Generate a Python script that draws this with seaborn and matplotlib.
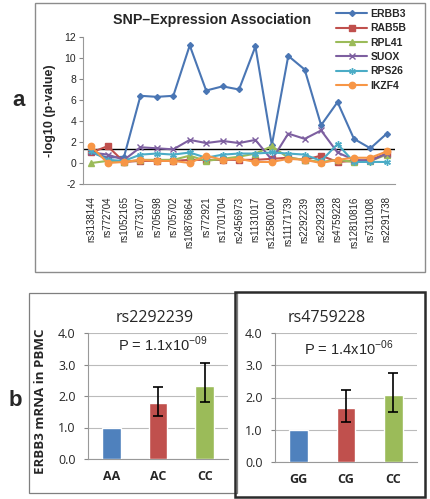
import numpy as np
import pandas as pd
import matplotlib
matplotlib.use("Agg")
import matplotlib.pyplot as plt
from matplotlib.patches import Rectangle
from matplotlib.lines import Line2D
import seaborn as sns

# ---------------- data ----------------
snps = ["rs3138144", "rs772704", "rs1052165", "rs773107", "rs705698", "rs705702",
        "rs10876864", "rs772921", "rs1701704", "rs2456973", "rs1131017", "rs12580100",
        "rs11171739", "rs2292239", "rs2292238", "rs4759228", "rs12810816", "rs7311008",
        "rs2291738"]
genes = ["ERBB3", "RAB5B", "RPL41", "SUOX", "RPS26", "IKZF4"]
erbb3 = [1.0, 0.5, 0.6, 6.4, 6.3, 6.4, 11.2, 6.9, 7.3, 7.0, 11.1, 1.7, 10.2, 8.9, 3.6, 5.8, 2.3, 1.4, 2.8]
rab5b = [1.0, 1.6, 0.1, 0.2, 0.2, 0.2, 0.3, 0.3, 0.3, 0.3, 0.3, 0.4, 0.5, 0.3, 0.7, 0.1, 0.2, 0.3, 0.9]
rpl41 = [0.0, 0.2, 0.1, 0.3, 0.3, 0.3, 0.7, 0.2, 0.4, 0.6, 0.9, 1.6, 0.5, 0.3, 0.1, 0.3, 0.1, 0.2, 0.8]
suox = [1.0, 0.8, 0.3, 1.5, 1.4, 1.3, 2.2, 1.9, 2.1, 1.9, 2.2, 0.3, 2.8, 2.3, 3.1, 1.0, 0.3, 0.2, 0.9]
rps26 = [1.1, 0.3, 0.2, 0.8, 0.9, 0.8, 1.0, 0.5, 0.8, 0.9, 0.9, 1.0, 0.9, 0.8, 0.2, 1.8, 0.1, 0.1, 0.1]
ikzf4 = [1.6, 0.0, 0.1, 0.3, 0.2, 0.2, 0.0, 0.7, 0.3, 0.4, 0.1, 0.1, 0.4, 0.3, 0.0, 0.3, 0.5, 0.5, 1.1]
threshold = 1.3

geno1 = ["AA", "AC", "CC"]
expr1 = [1.0, 1.77, 2.33]
lo1 = [1.0, 1.38, 1.82]
hi1 = [1.0, 2.28, 3.04]
title1 = "rs2292239"
p1 = ("1.1", "-09")

geno2 = ["GG", "CG", "CC"]
expr2 = [1.0, 1.68, 2.08]
lo2 = [1.0, 1.25, 1.55]
hi2 = [1.0, 2.22, 2.75]
title2 = "rs4759228"
p2 = ("1.4", "-06")

# ---------------- style ----------------
sns.set_style("white")
plt.rcParams["font.family"] = ["Liberation Sans", "DejaVu Sans"]

gene_colors = {"ERBB3": "#4A76B4", "RAB5B": "#C0504D", "RPL41": "#9BBB59",
               "SUOX": "#7D5FA0", "RPS26": "#4BACC6", "IKZF4": "#F79646"}
gene_markers = {"ERBB3": "D", "RAB5B": "s", "RPL41": "^", "SUOX": "x",
                "RPS26": (6, 2, 0), "IKZF4": "o"}
gene_ms = {"ERBB3": 3.0, "RAB5B": 4.0, "RPL41": 4.0, "SUOX": 4.0, "RPS26": 4.8, "IKZF4": 4.6}
bar_colors = ["#4F81BD", "#C0504D", "#9BBB59"]

W, H = 430, 499
fig = plt.figure(figsize=(W / 100, H / 100), dpi=100)


def fx(px):
    return px / W


def fy(py):
    return 1 - py / H


# ---------------- boxes ----------------
fig.patches.append(Rectangle((fx(35), fy(272)), fx(425) - fx(35), fy(3) - fy(272),
                             transform=fig.transFigure, fill=False, ec="#8C8C8C", lw=1.0))
fig.patches.append(Rectangle((fx(29), fy(493)), fx(237) - fx(29), fy(293) - fy(493),
                             transform=fig.transFigure, fill=False, ec="#7F7F7F", lw=0.9))
fig.patches.append(Rectangle((fx(235), fy(497)), fx(425) - fx(235), fy(292) - fy(497),
                             transform=fig.transFigure, fill=False, ec="#2B2B2B", lw=1.8))

# ---------------- top panel ----------------
ax = fig.add_axes([fx(83), fy(184), fx(395) - fx(83), fy(37) - fy(184)])
series = {"ERBB3": erbb3, "RAB5B": rab5b, "RPL41": rpl41, "SUOX": suox,
          "RPS26": rps26, "IKZF4": ikzf4}

ax.axhline(threshold, color="black", lw=1.0, zorder=1)
for g in genes:
    gdf = pd.DataFrame({"idx": np.arange(len(snps)), "value": series[g]})
    c = gene_colors[g]
    sns.lineplot(data=gdf, x="idx", y="value", color=c, marker=gene_markers[g],
                 markersize=gene_ms[g], markeredgecolor=c, markerfacecolor=c,
                 markeredgewidth=1.0, lw=1.5, errorbar=None, sort=False, ax=ax)

ax.set_xlim(-0.5, len(snps) - 0.5)
ax.set_ylim(-2, 12)
ax.set_yticks(np.arange(-2, 13, 2))
ax.set_yticklabels([str(v) for v in range(-2, 13, 2)], fontsize=7.5)
ax.set_xticks(range(len(snps)))
ax.set_xticklabels(snps, rotation=90, fontsize=7)
ax.set_xticks(np.arange(-0.5, len(snps), 1), minor=True)
ax.tick_params(axis="x", which="major", length=0, pad=9)
ax.tick_params(axis="x", which="minor", length=4, color="#888888", direction="out")
ax.tick_params(axis="y", length=3, color="#888888", direction="out", pad=2, left=True)
for s in ["top", "right"]:
    ax.spines[s].set_visible(False)
ax.spines["left"].set_color("#999999")
ax.spines["bottom"].set_color("#999999")
ax.set_xlabel("")
ax.set_ylabel("-log10 (p-value)", fontsize=9, fontweight="bold", labelpad=6)
ax.patch.set_alpha(0)

fig.text(fx(212), fy(20), "SNP\u2013Expression Association", ha="center", va="center",
         fontsize=10.3, fontweight="bold")

handles = [Line2D([0], [0], color=gene_colors[g], marker=gene_markers[g], lw=1.5,
                  ms=gene_ms[g], mec=gene_colors[g], mfc=gene_colors[g]) for g in genes]
leg = fig.legend(handles, genes, loc="upper left", bbox_to_anchor=(fx(336), fy(9)),
                 frameon=False, fontsize=7.5, handlelength=3.0, handletextpad=0.3,
                 labelspacing=0.42, borderaxespad=0, borderpad=0)
for t in leg.get_texts():
    t.set_fontweight("bold")

fig.text(fx(19), fy(100), "a", ha="center", va="center", fontsize=16, fontweight="bold")
fig.text(fx(15), fy(400), "b", ha="center", va="center", fontsize=16, fontweight="bold")

# ---------------- bottom panels ----------------
def bar_panel(rect, geno, vals, lo, hi, title, ptxt, title_xy, p_xy):
    bx = fig.add_axes(rect)
    bdf = pd.DataFrame({"geno": geno, "val": vals})
    sns.barplot(data=bdf, x="geno", y="val", hue="geno", palette=bar_colors,
                saturation=1, width=0.4, legend=False, ax=bx, zorder=3)
    for i, (v, l, h) in enumerate(zip(vals, lo, hi)):
        if h > l:
            bx.errorbar(i, v, yerr=[[v - l], [h - v]], color="black", lw=1.2,
                        capsize=3.5, capthick=1.2, zorder=4)
    bx.set_ylim(0, 4)
    bx.set_xlim(-0.5, 2.5)
    bx.set_yticks([0, 1, 2, 3, 4])
    bx.set_yticklabels(["0.0", "1.0", "2.0", "3.0", "4.0"], fontsize=9,
                       family=["Open Sans", "DejaVu Sans"])
    bx.set_xticks([0, 1, 2])
    bx.set_xticklabels(geno, fontsize=9, fontweight="bold", family=["Open Sans", "DejaVu Sans"])
    bx.set_xticks([-0.5, 0.5, 1.5, 2.5], minor=True)
    bx.tick_params(axis="x", which="major", length=0, pad=8)
    bx.tick_params(axis="x", which="minor", length=4, color="#888888", direction="out")
    bx.tick_params(axis="y", length=3, color="#888888", direction="out", pad=6, left=True)
    bx.grid(axis="y", color="#BBBBBB", lw=0.8, zorder=0)
    bx.set_axisbelow(True)
    for s in ["top", "right"]:
        bx.spines[s].set_visible(False)
    bx.spines["left"].set_color("#999999")
    bx.spines["bottom"].set_color("#999999")
    bx.set_xlabel("")
    bx.set_ylabel("")
    bx.patch.set_alpha(0)
    fig.text(fx(title_xy[0]), fy(title_xy[1]), title, ha="center", va="center",
             fontsize=11.5, family=["Open Sans", "DejaVu Sans"])
    fig.text(fx(p_xy[0]), fy(p_xy[1]),
             "P = %sx10$^{\\mathregular{%s}}$" % ptxt, ha="center", va="center",
             fontsize=10.5, family=["Liberation Sans", "DejaVu Sans"])
    return bx


bar_panel([fx(88), fy(459), fx(228) - fx(88), fy(333) - fy(459)], geno1, expr1, lo1, hi1,
          title1, p1, (155, 318), (163, 344))
bar_panel([fx(275), fy(462), fx(417) - fx(275), fy(333) - fy(462)], geno2, expr2, lo2, hi2,
          title2, p2, (327, 318), (349, 348))

fig.text(fx(41), fy(401), "ERBB3 mRNA in PBMC", rotation=90, ha="center", va="center",
         fontsize=9.5, fontweight="bold", family=["Open Sans", "DejaVu Sans"])

fig.savefig("out.png", dpi=100)
